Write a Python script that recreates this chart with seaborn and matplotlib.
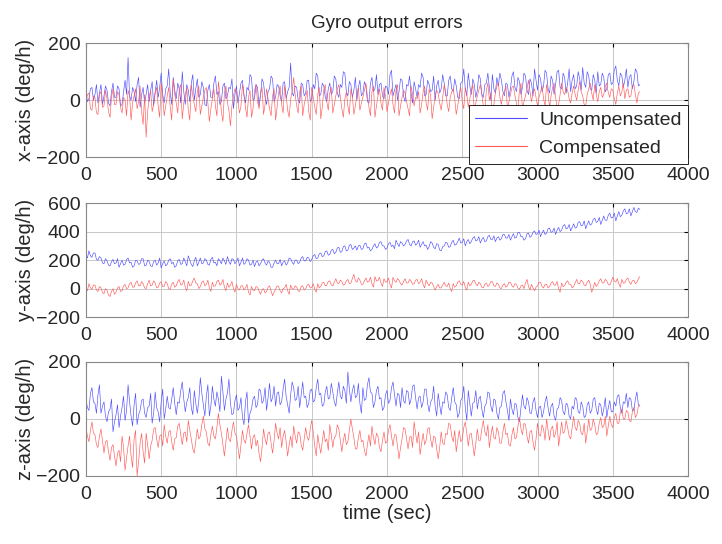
import numpy as np
import matplotlib
matplotlib.use("Agg")
import matplotlib.pyplot as plt
from matplotlib.lines import Line2D
import seaborn as sns

# sample times (s), one sample every 10 s up to 3680 s
t = np.linspace(0, 3680, 369)

# x-axis gyro error (deg/h)
ux = [
    30, -5, 5, 40, 45, 0, 20, 55, -10, 25, 55, -15, 15, 50, 35, -10, -20, 30, 60, 10,
    10, 50, 40, -20, -15, 30, 70, 20, 150, 15, 0, 45, 30, -5, 55, 80, -25, 20, 45, -10,
    20, 55, -5, 35, 65, -20, 30, 70, 10, 45, 95, 20, -10, 40, 50, 110, 25, -15, 80, 35,
    5, 60, 40, -10, 100, 30, -15, 55, 35, -5, 60, 90, 0, 40, 75, 10, 20, 65, 45, -15,
    -20, 35, 55, 10, 10, 60, 85, 20, 30, -15, -5, 50, 60, 5, 15, 45, 40, 75, -30, 20,
    50, -10, 25, 60, 70, 15, -10, 45, 35, 90, 80, 0, 5, 55, 45, -20, 20, 75, 60, 10,
    -15, 30, 40, 85, 75, -5, 10, 55, 50, 15, -5, 60, 65, 5, 30, 45, 130, 25, 15, 50,
    45, 0, -10, 60, 55, 15, 25, 70, 70, -5, 5, 55, 40, 95, 85, 15, 20, 60, 50, 10,
    -5, 40, 60, 20, 30, 85, 75, 25, 10, 55, 45, 100, 95, 30, 15, 65, 55, 10, 35, 80,
    0, 45, 70, 15, 25, 65, 50, -5, -10, 60, 80, 30, 40, 90, 20, 55, 60, 15, 5, 50,
    45, 20, 90, 105, 15, 35, 55, 0, 30, 75, 70, 15, -5, 55, 50, 85, 25, -10, 65, 40,
    10, 55, 45, 95, 80, 15, 20, 70, 55, 30, 35, 85, 0, 50, 70, 25, 40, 90, 60, 15,
    15, 70, 85, 40, 30, 75, 50, 10, 5, 60, 65, 110, 40, 15, 95, 50, 20, 75, 55, 10,
    35, 90, 75, 20, 10, 55, 60, 95, 45, 0, 90, 40, 25, 80, 50, 95, 70, 30, 15, 60,
    55, 10, 40, 85, 100, 45, 30, 80, 65, 20, 45, 95, 85, 35, 20, 75, 60, 15, 110, 70,
    35, 90, 75, 30, 50, 105, 95, 40, 25, 85, 70, 20, 55, 100, 105, 45, 40, 95, 80, 25,
    60, 110, 30, 70, 90, 40, 50, 100, 75, 35, 115, 60, 45, 100, 85, 40, 35, 90, 70, 25,
    100, 50, 55, 95, 80, 30, 40, 90, 95, 55, 60, 105, 120, 70, 50, 95, 85, 45, 70, 110,
    45, 80, 90, 40, 65, 110, 100, 50, 55,
]
cx = [
    -10, 20, 25, -30, -35, 15, 10, -45, -50, 20, 30, -25, -20, 35, 5, -40, -60, 10, 40, -15,
    -15, 30, 20, -25, -45, 10, 0, -55, 35, 15, -70, -10, 15, 40, -30, -5, 50, -40, -85, 20,
    -130, -40, 10, 35, -40, -15, 25, 45, -20, -60, 60, 10, -55, -20, 15, 45, -25, -70, 75, 20,
    -10, -45, 40, 55, -65, -10, 20, 45, -35, -70, 55, 15, -15, -40, 30, 50, -50, -20, 10, 35,
    45, -10, -75, -30, 5, 40, -20, -55, 65, 20, -40, -75, 25, 50, -10, -35, -90, -20, 15, 40,
    30, -5, -45, -20, 55, 20, -25, -60, 10, 35, -60, -30, 35, 55, -5, -30, 20, 45, -50, -15,
    40, 5, -30, -55, 15, 40, -70, -25, 25, 50, -15, -45, 50, 15, -35, -60, 5, 30, 80, 20,
    -20, -45, 30, 50, -55, -15, 10, 35, -40, -70, 45, 10, -25, -50, 20, 45, -65, -25, 35, 55,
    -5, -35, 25, 45, -45, -15, 15, 40, 55, 10, -30, -60, 5, 30, -20, -50, 40, 15, -50, -20,
    20, 45, -35, -10, 10, 35, 60, 15, -25, -55, 30, 50, -60, -20, 15, 40, -10, -35, 45, 15,
    -40, -10, 20, 40, -15, -45, 35, 55, -55, -20, 10, 35, 25, -5, -30, -55, 50, 20, -20, 10,
    5, 30, -45, -15, 30, 50, -10, -35, 40, 15, -65, -25, 15, 35, 25, -10, -35, 10, 55, 30,
    -15, -40, 10, 30, 40, 5, -50, -20, 20, 45, -5, -30, 45, 20, -25, 5, 30, 55, -40, -10,
    15, 35, 55, 20, -20, -45, 35, 60, 0, 25, -45, -15, 25, 50, 60, 10, -15, 20, 30, 50,
    -30, -5, 20, 45, 50, 15, -10, -35, 35, 60, -35, -5, 15, 40, 70, 30, -5, 25, 40, 10,
    -20, 10, 30, 50, 5, -20, 55, 25, -25, 15, 45, 60, 10, -25, -15, 20, 60, 30, 20, 45,
    35, 5, -10, 25, 50, 20, 0, 35, 65, 30, 15, -15, -20, 20, 40, 60, 25, 0, 55, 20,
    -5, 30, 45, 10, 20, 50, 60, 25, 10, 40, 35, 5, -15, 25, 50, 15, 30, 60, 5, 35,
    40, 10, 15, 50, 55, 20, -10, 25, 30,
]

# y-axis gyro error (deg/h)
uy = [
    240, 215, 265, 230, 220, 250, 250, 205, 200, 225, 215, 180, 175, 210, 195, 165, 160, 190, 205, 175,
    180, 210, 150, 175, 200, 165, 170, 205, 215, 180, 185, 150, 160, 200, 195, 170, 175, 210, 210, 160,
    165, 200, 190, 160, 155, 190, 200, 165, 180, 215, 145, 175, 195, 160, 170, 200, 210, 175, 185, 150,
    160, 195, 205, 170, 175, 215, 190, 160, 230, 200, 170, 155, 195, 220, 160, 185, 215, 175, 180, 210,
    200, 170, 165, 205, 220, 180, 185, 160, 210, 195, 175, 215, 195, 170, 225, 190, 170, 210, 205, 175,
    190, 215, 160, 185, 215, 170, 180, 210, 200, 165, 170, 200, 155, 185, 195, 160, 175, 200, 210, 180,
    165, 195, 185, 150, 150, 180, 200, 175, 175, 205, 160, 185, 195, 165, 180, 215, 210, 185, 170, 200,
    200, 175, 185, 215, 225, 195, 195, 220, 215, 190, 205, 230, 240, 210, 215, 245, 250, 225, 230, 260,
    265, 235, 240, 270, 275, 245, 255, 285, 290, 255, 260, 295, 300, 265, 270, 305, 310, 275, 285, 300,
    270, 300, 305, 275, 280, 315, 320, 285, 290, 265, 275, 300, 315, 285, 295, 325, 330, 300, 300, 275,
    285, 315, 325, 295, 305, 280, 340, 315, 295, 330, 320, 300, 310, 335, 345, 310, 300, 330, 335, 305,
    315, 340, 290, 310, 330, 300, 305, 275, 295, 330, 320, 290, 280, 315, 310, 270, 265, 295, 300, 325,
    320, 290, 295, 325, 340, 305, 310, 330, 355, 320, 325, 350, 300, 330, 345, 315, 330, 355, 365, 335,
    340, 365, 320, 345, 360, 330, 335, 365, 375, 345, 345, 370, 330, 355, 365, 340, 350, 380, 380, 355,
    355, 380, 340, 365, 385, 355, 360, 395, 395, 365, 365, 340, 350, 385, 390, 360, 370, 395, 405, 380,
    385, 410, 365, 390, 410, 380, 390, 420, 425, 395, 400, 425, 380, 410, 430, 400, 410, 440, 450, 420,
    425, 450, 405, 430, 455, 425, 430, 465, 470, 440, 445, 475, 420, 450, 475, 445, 455, 485, 495, 465,
    470, 500, 450, 480, 510, 480, 480, 515, 530, 495, 500, 530, 475, 510, 540, 505, 515, 545, 560, 525,
    530, 560, 510, 540, 570, 540, 535, 565, 555,
]
cy = [
    10, -15, 35, 5, -5, 25, 25, -10, -20, 15, 5, -30, -35, 0, -10, -45, -55, -20, 0, -40,
    -25, 5, 15, -20, -15, 20, 30, 0, 5, 35, 45, 10, 10, 40, 55, 20, 20, 50, 35, 5,
    0, 35, 60, 20, 25, 55, 40, 5, 10, 40, 50, 15, 15, 50, 35, 0, -5, 30, 45, 10,
    20, 50, 65, 25, 30, 60, 10, -15, 50, 20, 25, 55, 75, 40, 35, 0, 15, 45, 55, 20,
    30, 60, 5, -20, 45, 15, 20, 50, 60, 25, 35, 65, 10, -15, 40, 10, 25, 50, 0, -25,
    30, 0, -10, 20, 20, -10, 5, 30, -25, -45, 15, -10, -15, 15, 10, -15, -40, -10, 0, -30,
    -20, 10, 20, -15, -50, -25, -5, 20, 15, -15, -30, 0, 5, 30, -15, -40, 25, 0, -5, 20,
    10, -15, -20, 15, 20, -10, 0, 25, 30, 5, 10, 35, -5, -25, 35, 5, 15, 40, 45, 20,
    25, 50, 55, 25, 20, 45, 70, 40, 35, 60, 50, 25, 30, 55, 65, 35, 40, 70, 100, 55,
    45, 75, 60, 30, 30, 55, 75, 45, 50, 80, 35, 10, 85, 55, 55, 80, 40, 15, 70, 45,
    50, 75, 30, 5, 80, 55, 45, 70, 60, 35, 25, 50, 70, 40, 40, 65, 55, 30, 35, 60,
    65, 35, 45, 70, 30, 5, 60, 35, 20, 45, 40, 15, -10, 15, 30, 5, 5, 25, 45, 20,
    15, 40, 0, -20, 35, 10, 20, 45, 55, 30, 25, 50, 10, -10, 45, 20, 30, 55, 60, 35,
    20, 45, 35, 10, 5, 30, 40, 15, 25, 50, 50, 20, 15, 40, 30, 5, 0, 25, 35, 10,
    20, 45, 45, 20, 10, 35, 30, 5, -5, 20, 25, 0, 40, 65, 15, -10, 30, 5, -15, 10,
    20, 45, 45, 15, 5, 30, 30, 5, 15, 40, 50, 25, 25, 50, 0, -25, 40, 15, 20, 45,
    55, 30, 30, 5, 15, 40, 65, 35, 35, 60, 50, 25, 20, 45, 60, 30, -25, 5, 45, 15,
    30, 55, 70, 40, 40, 65, 55, 30, 25, 50, 80, 55, 45, 70, 35, 10, 65, 40, 40, 65,
    75, 45, 30, 55, 60, 35, 45, 70, 85,
]

# z-axis gyro error (deg/h)
uz = [
    70, 40, 30, 90, 110, 60, 55, 20, 85, 120, 20, 45, 60, 10, -10, 25, 35, 70, -45, -10,
    15, 50, -30, 10, 40, 80, -5, 30, 120, 60, 10, -25, 50, 90, -20, 15, 30, 65, 70, 20,
    5, 40, 45, 90, -15, 20, 95, 40, 25, -10, 60, 105, 0, 35, 80, 40, 35, 70, 110, 55,
    15, 60, 55, 100, 130, 70, 25, 60, 75, 110, 40, 15, 100, 55, 20, 65, 145, 90, 50, 10,
    80, 120, 10, 45, 115, 70, 45, 95, 70, 25, 150, 95, 30, 70, 90, 140, 55, 15, 20, 65,
    85, 30, 40, 75, 5, -20, 60, 95, -15, 20, 35, 70, 80, 40, 50, 105, 100, 55, 65, 110,
    30, 75, 125, 60, 75, 115, 45, 90, 95, 50, 60, 105, 140, 80, 50, 20, 85, 130, 110, 65,
    70, 115, 40, 85, 130, 75, 80, 40, 55, 100, 105, 60, 65, 110, 140, 85, 90, 45, 50, 95,
    115, 70, 75, 125, 95, 60, 45, 90, 130, 80, 70, 115, 100, 55, 165, 105, 60, 100, 120, 75,
    80, 125, 55, 20, 110, 65, 70, 120, 145, 95, 90, 40, 60, 100, 115, 70, 75, 30, 40, 85,
    100, 55, 65, 110, 130, 85, 45, 90, 85, 40, 110, 65, 55, 100, 95, 50, 70, 115, 120, 75,
    35, 75, 80, 40, 60, 105, 105, 55, 25, 60, 70, 115, 45, 10, 90, 50, 15, 60, 55, 95,
    85, 40, 30, 75, 110, 60, 50, 5, 20, 65, 75, 115, 40, -5, 100, 55, 10, 55, 60, 100,
    35, 70, 80, 35, 5, 45, 55, 95, 90, 45, 25, 70, 65, 20, 0, 40, 45, 90, 100, 60,
    30, -5, 70, 35, 15, 55, 50, 5, -10, 40, 85, 45, 35, 75, 60, 20, 20, 60, 75, 30,
    5, 40, 45, 5, 25, 60, 80, 40, 10, 45, 55, 10, -5, 35, 40, 75, 65, 25, 15, 55,
    50, 10, 0, 45, 35, 75, 70, 25, 20, 60, 45, 5, 10, 50, 60, 20, 30, 70, 75, 35,
    15, 55, 50, 10, 35, 75, 5, 40, 65, 25, 25, 60, 45, 80, 85, 40, 20, 60, 55, 90,
    40, 75, 70, 30, 30, 70, 95, 50, 45,
]
cz = [
    -30, -60, -80, -40, -10, -50, -55, -90, -100, -60, -35, -75, -120, -80, -75, -115, -145, -100, -90, -130,
    -165, -120, -110, -150, -60, -100, -180, -135, -95, -60, -130, -170, -70, -40, -200, -150, -85, -50, -115, -155,
    -50, -90, -140, -95, -75, -35, -30, -70, -100, -60, -55, -95, -20, -60, -85, -45, -40, -80, -110, -70,
    -65, -25, -15, -55, -90, -50, -45, -80, -5, -40, -70, -105, -120, -75, -35, -70, -60, -20, 10, -35,
    -45, -85, -95, -55, -25, -60, -70, -30, 20, -20, -50, -90, -130, -80, -30, -70, -80, -40, -10, -50,
    -60, -100, -140, -90, -40, -75, -85, -50, -20, -60, -105, -65, -55, -95, -75, -120, -150, -100, -35, -70,
    -90, -50, -45, -85, -120, -75, -15, -50, -70, -30, -100, -60, -40, -80, -130, -90, -60, -100, -25, -60,
    -85, -45, -50, -90, -110, -70, -30, -65, -75, -35, -5, -45, -95, -130, -55, -90, -120, -80, -40, -80,
    -70, -110, -20, -55, -100, -65, -60, -20, -35, -75, -115, -75, -50, -90, -80, -40, 0, -35, -65, -105,
    -105, -65, -40, -80, -75, -110, -130, -90, -55, -95, -25, -65, -90, -50, -60, -100, -115, -75, -45, -85,
    -80, -40, -20, -60, -95, -55, -55, -95, -140, -100, -70, -30, -35, -70, -105, -65, -60, -100, -10, -50,
    -85, -45, -125, -85, -50, -90, -75, -35, -30, -70, -100, -60, -65, -105, -140, -100, -45, -85, -90, -50,
    -55, -15, -20, -60, -80, -40, -115, -75, -40, -80, -70, -30, -10, -50, -95, -55, -50, -90, -130, -85,
    -35, -75, -75, -35, -5, -45, -60, -20, -100, -60, -25, -65, -70, -30, -45, -85, -85, -45, -15, -55,
    -50, -90, -95, -55, -30, -70, -65, -25, 5, -35, -55, -15, -20, -60, -85, -45, -40, -80, -110, -70,
    -15, -55, -60, -20, -35, -75, 0, -40, -75, -35, -25, -65, -50, -10, -95, -55, -10, -50, -45, -5,
    -30, -60, -70, -30, 10, -30, -40, -5, -15, -50, -55, -15, -85, -45, 0, -40, -35, 0, -20, -55,
    -50, -15, 5, -30, -25, 10, -60, -25, 10, -20, -30, 5, 20, -15, -15, 25, 35, 0, 0, 30,
    25, -5, -10, 25, 40, 5, 15, 45, 50,
]

panels = [
    ("x-axis (deg/h)", ux, cx, (-200, 200), [-200, 0, 200]),
    ("y-axis (deg/h)", uy, cy, (-200, 600), [-200, 0, 200, 400, 600]),
    ("z-axis (deg/h)", uz, cz, (-200, 200), [-200, 0, 200]),
]
xticks = [0, 500, 1000, 1500, 2000, 2500, 3000, 3500, 4000]

sns.set_style("white")
plt.rcParams["font.family"] = ["Liberation Sans", "DejaVu Sans"]

fig = plt.figure(figsize=(7.22, 5.44), dpi=100)
bottoms = [0.711, 0.417, 0.125]
blue = (0.3, 0.3, 1.0)
red = (1.0, 0.35, 0.35)

axes = []
for (ylab, u, c, ylim, yt), b in zip(panels, bottoms):
    ax = fig.add_axes([0.119, b, 0.834, 0.2096])
    sns.lineplot(x=t, y=u, ax=ax, color=blue, lw=0.45, legend=False)
    sns.lineplot(x=t, y=c, ax=ax, color=red, lw=0.45, legend=False)
    ax.set_xlim(0, 4000)
    ax.set_ylim(*ylim)
    ax.set_xticks(xticks)
    ax.set_yticks(yt)
    ax.set_ylabel(ylab, fontsize=14.5, labelpad=1)
    ax.grid(True, color="#c8c8c8", lw=0.7)
    ax.tick_params(direction="in", top=True, right=True, length=3, width=0.8,
                   labelsize=14, color="black")
    ax.tick_params(axis="x", pad=7)
    ax.tick_params(axis="y", pad=4)
    for s in ax.spines.values():
        s.set_color("#888888")
        s.set_linewidth(0.8)
    axes.append(ax)

axes[0].set_title("Gyro output errors", fontsize=13.5, pad=11)
axes[2].set_xlabel("time (sec)", fontsize=14.5, labelpad=1)

handles = [Line2D([], [], color=blue, lw=0.8), Line2D([], [], color=red, lw=0.8)]
leg = axes[0].legend(handles, ["Uncompensated", "Compensated"],
                     loc="upper right", bbox_to_anchor=(1.0, 0.46), fontsize=14,
                     frameon=True, fancybox=False, edgecolor="black",
                     borderaxespad=0, handlelength=2.7, borderpad=0.33,
                     labelspacing=0.55, handletextpad=0.6, framealpha=1)
leg.get_frame().set_linewidth(0.6)
leg.set_zorder(5)

fig.savefig("out.png", dpi=100)
